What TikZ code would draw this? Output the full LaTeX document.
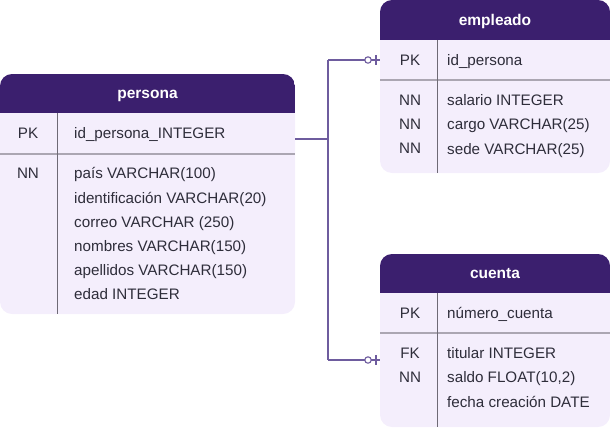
\documentclass[tikz,border=0pt]{standalone}
\usepackage{fontspec}
\setmainfont{Liberation Sans}
\definecolor{hdr}{HTML}{3B1F6E}
\definecolor{bodyc}{HTML}{F4EEFC}
\definecolor{txt}{HTML}{2E2D3A}
\definecolor{sepc}{HTML}{ABA6B2}
\definecolor{divc}{HTML}{6E6A75}
\definecolor{linkc}{HTML}{6E5C9E}
\begin{document}
\begin{tikzpicture}[x=1pt,y=-1pt,
  tbl/.style={draw=none,fill=bodyc,rounded corners=12pt,inner sep=0pt,outer sep=0pt},
  hdrtxt/.style={font=\bfseries\fontsize{15.5}{18}\selectfont,text=white,inner sep=0pt},
  keytxt/.style={font=\fontsize{15.2}{18}\selectfont,text=txt,inner sep=0pt,anchor=base},
  coltxt/.style={font=\fontsize{15.2}{18}\selectfont,text=txt,inner sep=0pt,anchor=base west},
  multitxt/.style={font=\fontsize{15.2}{24.2}\selectfont,text=txt,inner sep=0pt,anchor=north west,align=left},
  multikey/.style={font=\fontsize{15.2}{24.2}\selectfont,text=txt,inner sep=0pt,anchor=north,align=center},
  sepline/.style={draw=sepc,line width=1.5pt},
  divline/.style={draw=divc,line width=0.9pt},
  link/.style={draw=linkc,line width=1.3pt},
  endmark/.style={draw=linkc,line width=1.1pt}]
\useasboundingbox (0,0) rectangle (610,429);

% ---------- persona ----------
\path[tbl] (0,74) rectangle (295,314);
\begin{scope}
\clip[rounded corners=12pt] (0,74) rectangle (295,314);
\fill[hdr] (0,74) rectangle (295,113);
\end{scope}
\node[hdrtxt] (persT) at (147.5,96) {persona};
\draw[sepline] (0,154) -- (295,154);
\draw[divline] (57,113) -- (57,314);
\node[keytxt] (persPK) at (28,138.5) {PK};
\node[coltxt] (persPKc) at (74,138.5) {id\_persona\_INTEGER};
\node[multikey] (persNN) at (28,167.5) {NN};
\node[multitxt] (persBody) at (74,167.5) {país VARCHAR(100)\\identificación VARCHAR(20)\\correo VARCHAR (250)\\nombres VARCHAR(150)\\apellidos VARCHAR(150)\\edad INTEGER};
\coordinate (persona) at (295,139);

% ---------- empleado ----------
\path[tbl] (380,0) rectangle (610,173);
\begin{scope}
\clip[rounded corners=12pt] (380,0) rectangle (610,173);
\fill[hdr] (380,0) rectangle (610,40);
\end{scope}
\node[hdrtxt] (empT) at (495,21) {empleado};
\draw[sepline] (380,80) -- (610,80);
\draw[divline] (437,40) -- (437,173);
\node[keytxt] (empPK) at (410,65.5) {PK};
\node[coltxt] (empPKc) at (447,65.5) {id\_persona};
\node[multikey] (empNN) at (410,94.5) {NN\\NN\\NN};
\node[multitxt] (empBody) at (447,94.5) {salario INTEGER\\cargo VARCHAR(25)\\sede VARCHAR(25)};
\coordinate (empleado) at (380,60);

% ---------- cuenta ----------
\path[tbl] (380,254) rectangle (610,427);
\begin{scope}
\clip[rounded corners=12pt] (380,254) rectangle (610,427);
\fill[hdr] (380,254) rectangle (610,293);
\end{scope}
\node[hdrtxt] (cueT) at (495,274) {cuenta};
\draw[sepline] (380,333) -- (610,333);
\draw[divline] (437,293) -- (437,427);
\node[keytxt] (cuePK) at (410,318.5) {PK};
\node[coltxt] (cuePKc) at (447,318.5) {número\_cuenta};
\node[multikey] (cueKeys) at (410,347.5) {FK\\NN};
\node[multitxt] (cueBody) at (447,347.5) {titular INTEGER\\saldo FLOAT(10,2)\\fecha creación DATE};
\coordinate (cuenta) at (380,360);

% ---------- connectors ----------
\coordinate (jn) at (328,139);
\coordinate (jtop) at (328,60);
\coordinate (jbot) at (328,360);
\draw[link] (persona) -- (jn);
\draw[link] (jtop) -- (jbot);
\draw[link] (jtop) -- (365,60);
\draw[link] (jbot) -- (365,360);
\draw[endmark] (368,60) circle (3.2);
\draw[endmark] (371.2,60) -- (empleado);
\draw[endmark] (376,55) -- (376,65);
\draw[endmark] (368,360) circle (3.2);
\draw[endmark] (371.2,360) -- (cuenta);
\draw[endmark] (376,355) -- (376,365);
\end{tikzpicture}
\end{document}
